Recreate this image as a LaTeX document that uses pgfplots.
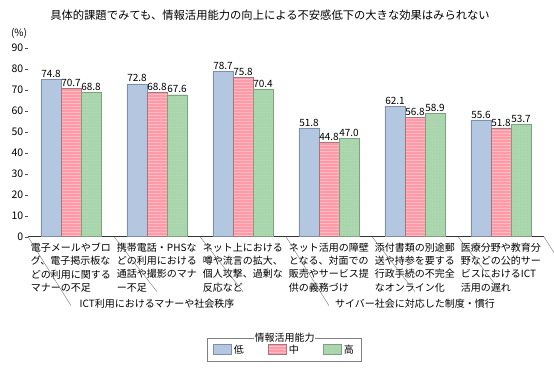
\documentclass[border=0pt]{standalone}
\usepackage{pgfplots}
\pgfplotsset{compat=1.18}
\usepackage{fontspec}
\setmainfont{Noto Sans CJK JP}
\usetikzlibrary{patterns}
\definecolor{cblue}{HTML}{B3C7E0}
\definecolor{cblueD}{HTML}{7F8FA8}
\definecolor{cpink}{HTML}{FF9AA6}
\definecolor{cpinkL}{HTML}{FFBAC3}
\definecolor{cpinkD}{HTML}{A07880}
\definecolor{cgreen}{HTML}{A8D5AB}
\definecolor{cgreenL}{HTML}{CBE6CC}
\definecolor{cgreenD}{HTML}{80A080}
\begin{document}
\begin{tikzpicture}
\path[use as bounding box] (0,0) rectangle (554pt,374pt);
\node[font=\fontsize{11.3}{13}\selectfont] at (270pt,359pt) {具体的課題でみても、情報活用能力の向上による不安感低下の大きな効果はみられない};
\node[font=\fontsize{10}{12}\selectfont] at (19pt,341pt) {(\%)};
\begin{axis}[
  at={(28pt,137.3pt)}, anchor=south west,
  scale only axis, width=516pt, height=189pt,
  ybar=0pt, bar width=20pt,
  legend image code/.code={\draw[#1] (0pt,-5pt) rectangle (18pt,5pt);},
  xmin=-0.5, xmax=5.5, ymin=0, ymax=90,
  ytick={0,10,...,90},
  xtick={0,...,5},
  xticklabels={
    {電子メールやブロ\\グ、電子掲示板な\\どの利用に関する\\マナーの不足},
    {携帯電話・PHSな\\どの利用における\\通話や撮影のマナ\\ー不足},
    {ネット上における\\噂や流言の拡大、\\個人攻撃、過剰な\\反応など},
    {ネット活用の障壁\\となる、対面での\\販売やサービス提\\供の義務づけ},
    {添付書類の別途郵\\送や持参を要する\\行政手続の不完全\\なオンライン化},
    {医療分野や教育分\\野などの公的サー\\ビスにおけるICT\\活用の遅れ}},
  xticklabel style={text width=80pt, align=left, anchor=north, font=\fontsize{10}{13.3}\selectfont, inner sep=2pt, yshift=-1pt},
  yticklabel style={font=\fontsize{10.5}{12}\selectfont, inner sep=1.5pt},
  /pgf/number format/assume math mode=true,
  axis x line*=bottom, axis y line*=left,
  y axis line style={draw=none},
  x axis line style={-, draw=black!80},
  xtick style={draw=none},
  ytick style={draw=black!70},
  tick align=outside, major tick length=3pt,
  nodes near coords,
  every node near coord/.append style={font=\fontsize{10}{12}\selectfont, inner sep=1.5pt, /pgf/number format/.cd, fixed, fixed zerofill, precision=1, assume math mode=true},
  legend style={at={(0.497,-0.535)}, anchor=north, legend columns=3, draw=black!50, line width=0.9pt,
    font=\fontsize{10}{12}\selectfont, inner xsep=6pt, inner ysep=5.5pt,
    nodes={inner ysep=1pt},
    /tikz/every even column/.append style={column sep=22pt}},
  clip=false,
]
\addplot[fill=cblue, draw=cblueD] coordinates {(0,74.8) (1,72.8) (2,78.7) (3,51.8) (4,62.1) (5,55.6)};
\addplot[fill=cpink, draw=cpinkD, postaction={pattern=horizontal lines, pattern color=cpinkL}] coordinates {(0,70.7) (1,68.8) (2,75.8) (3,44.8) (4,56.8) (5,51.8)};
\addplot[fill=cgreen, draw=cgreenD, postaction={pattern=dots, pattern color=cgreenL}] coordinates {(0,68.8) (1,67.6) (2,70.4) (3,47.0) (4,58.9) (5,53.7)};
\legend{低,中,高}
\pgfplotsinvokeforeach{0.5,1.5,3.5,4.5}{\draw[black!55] (axis cs:#1,0) -- ++(0,-55pt);}
\pgfplotsinvokeforeach{-0.5,2.5,5.5}{\draw[black!55] (axis cs:#1,0) -- ++(0,-69pt);}
\node[font=\fontsize{10}{12}\selectfont] at (axis cs:1,0) [yshift=-67pt] {ICT利用におけるマナーや社会秩序};
\node[font=\fontsize{10}{12}\selectfont] at (axis cs:4,0) [yshift=-67pt] {サイバー社会に対応した制度・慣行};
\end{axis}
\node[fill=white, inner sep=0.5pt, font=\fontsize{10}{12}\selectfont] at (284.5pt,36.5pt) {情報活用能力};
\end{tikzpicture}
\end{document}
